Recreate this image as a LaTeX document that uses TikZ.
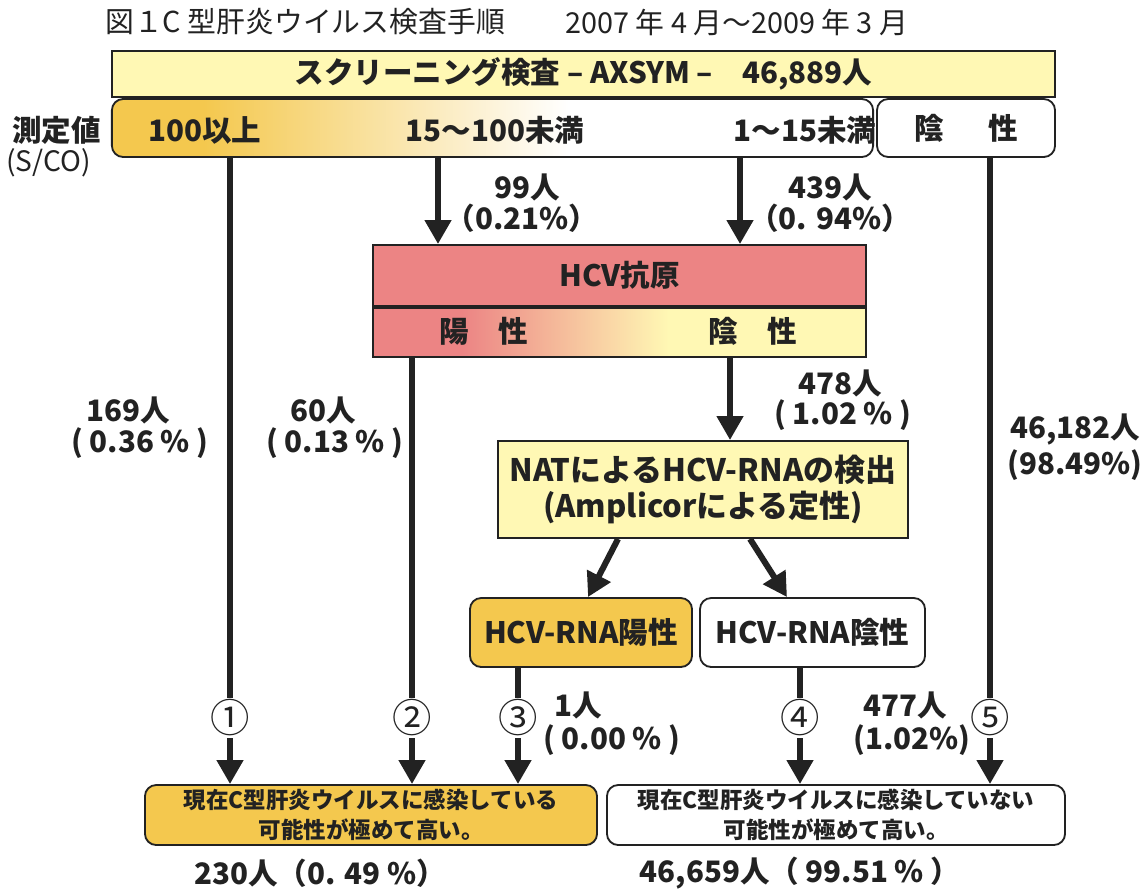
\documentclass[tikz,border=0pt]{standalone}
\usepackage{fontspec}
\setmainfont{Noto Sans CJK JP}
\usetikzlibrary{arrows.meta,calc}
\definecolor{lyel}{HTML}{FFF8B4}
\definecolor{gold}{HTML}{F4C84E}
\definecolor{pinkr}{HTML}{EC8484}
\definecolor{ink}{HTML}{222222}
\begin{document}
\begin{tikzpicture}[x=0.025cm,y=-0.025cm,
  every node/.style={text=ink, font=\bfseries\fontsize{21}{25}\selectfont, inner sep=0pt},
  box/.style={draw=ink, line width=1.3pt},
  rbox/.style={box, rounded corners=8pt},
  arr/.style={draw=ink, line width=4.3pt, -{Triangle[width=18pt,length=17pt]}},
  circ/.style={fill=white, font=\fontsize{28}{30}\selectfont, inner sep=1pt},
]
\useasboundingbox (0,0) rectangle (1143,890);
\fill[white] (0,0) rectangle (1143,890);

% title
\node[anchor=west, font=\fontsize{20.5}{23}\selectfont] (t1) at (105,22) {図１C 型肝炎ウイルス検査手順};
\node[anchor=west, font=\fontsize{20.5}{23}\selectfont] (t2) at (565,22) {2007 年 4 月～2009 年 3 月};

% screening bar
\node[box, fill=lyel, minimum width=23.575cm, minimum height=1.15cm] (screen) at (583.5,74) {スクリーニング検査 – AXSYM –\quad 46,889人};

% measurement row
\node[rbox, fill=white, minimum width=19.025cm, minimum height=1.45cm,
  path picture={
    \path (path picture bounding box.south west) coordinate (sw) (path picture bounding box.north east) coordinate (ne);
    \fill[gold, sharp corners] (sw) rectangle ($(ne -| sw)!0.12!(ne)$);
    \shade[left color=gold, right color=white, sharp corners] ($(sw)!0.12!(sw -| ne)$) rectangle ($(ne -| sw)!0.6!(ne)$);
  }] (row) at (492.5,128) {};
\node (r1) at (205,130) {100以上};
\node (r2) at (495,130) {15～100未満};
\node (r3) at (805,130) {1～15未満};
\node[rbox, fill=white, minimum width=4.45cm, minimum height=1.45cm] (neg) at (966,128) {陰\hspace{1.5em}性};
\node[anchor=west] (meas) at (12,130) {測定値};
\node[anchor=west, font=\fontsize{20}{22}\selectfont] (sco) at (6,163) {(S/CO)};

% HCV antigen
\node[box, fill=pinkr, minimum width=12.325cm, minimum height=1.525cm] (hcv) at (619.5,275.5) {HCV抗原};
\node[box, minimum width=12.325cm, minimum height=1.225cm, anchor=north,
  path picture={
    \path (path picture bounding box.south west) coordinate (sw) (path picture bounding box.north east) coordinate (ne);
    \fill[lyel] (sw) rectangle (ne);
    \fill[pinkr] (sw) rectangle ($(ne -| sw)!0.18!(ne)$);
    \shade[left color=pinkr, right color=lyel] ($(sw)!0.18!(sw -| ne)$) rectangle ($(ne -| sw)!0.6!(ne)$);
  }] (hcvres) at (hcv.south) {};
\node (hp) at (484,331) {陽　性};
\node (hn) at (753,331) {陰　性};

% NAT
\node[box, fill=lyel, minimum width=10.25cm, minimum height=2.425cm, align=center, font=\bfseries\fontsize{22}{26}\selectfont] (nat) at (703,489.5) {NATによるHCV-RNAの検出\\(Amplicorによる定性)};

% RNA result boxes
\node[rbox, fill=gold, minimum width=5.55cm, minimum height=1.725cm] (rpos) at (581,632.5) {HCV-RNA陽性};
\node[rbox, fill=white, minimum width=5.625cm, minimum height=1.725cm] (rneg) at (812.5,632.5) {HCV-RNA陰性};

% bottom boxes
\node[rbox, fill=gold, minimum width=11.3cm, minimum height=1.5cm, align=center, font=\bfseries\fontsize{16}{21}\selectfont] (bpos) at (371,815) {現在C型肝炎ウイルスに感染している\\可能性が極めて高い。};
\node[rbox, fill=white, minimum width=11.45cm, minimum height=1.5cm, align=center, font=\bfseries\fontsize{16}{21}\selectfont] (bneg) at (836,815) {現在C型肝炎ウイルスに感染していない\\可能性が極めて高い。};
\node (bl) at (320,873) {230人（0. 49 \%）};
\node (br) at (800,873) {46,659人（ 99.51 \% ）};

% connector x positions
\coordinate (x1) at (230,0);
\coordinate (x2t) at (438,0);
\coordinate (x3t) at (740,0);
\coordinate (x5) at (990,0);
\coordinate (x2) at (412,0);
\coordinate (xn) at (730,0);
\coordinate (x3) at (518,0);
\coordinate (x4) at (800,0);
\coordinate (a1) at (618,0);
\coordinate (a2) at (588,0);
\coordinate (b1) at (750,0);
\coordinate (b2) at (787,0);

\draw[arr] (row.south -| x1) -- (bpos.north -| x1);
\draw[arr] (row.south -| x2t) -- (hcv.north -| x2t);
\draw[arr] (row.south -| x3t) -- (hcv.north -| x3t);
\draw[arr] (neg.south -| x5) -- (bneg.north -| x5);
\draw[arr] (hcvres.south -| x2) -- (bpos.north -| x2);
\draw[arr] (hcvres.south -| xn) -- (nat.north -| xn);
\draw[arr] (rpos.south -| x3) -- (bpos.north -| x3);
\draw[arr] (rneg.south -| x4) -- (bneg.north -| x4);
\draw[arr] (nat.south -| a1) -- (rpos.north -| a2);
\draw[arr] (nat.south -| b1) -- (rneg.north -| b2);

% circled numbers
\node[circ] (n1) at (230,718) {①};
\node[circ] (n2) at (412,718) {②};
\node[circ] (n3) at (518,718) {③};
\node[circ] (n4) at (800,718) {④};
\node[circ] (n5) at (990,718) {⑤};

% counts
\node (c99) at (527,187) {99人};
\node (p99) at (522,218) {（0.21\%）};
\node (c439) at (830,187) {439人};
\node (p439) at (830,218) {（0. 94\%）};
\node (c478) at (840,383) {478人};
\node (p478) at (843,415) {( 1.02 \% )};
\node (c169) at (128,410) {169人};
\node (p169) at (140,443) {( 0.36 \% )};
\node (c60) at (323,410) {60人};
\node (p60) at (335,443) {( 0.13 \% )};
\node (c46) at (1075,430) {46,182人};
\node (p46) at (1075,465) {(98.49\%)};
\node (c1) at (578,705) {1人};
\node (p1) at (612,740) {( 0.00 \% )};
\node (c477) at (905,705) {477人};
\node (p477) at (912,740) {(1.02\%)};
\end{tikzpicture}
\end{document}
